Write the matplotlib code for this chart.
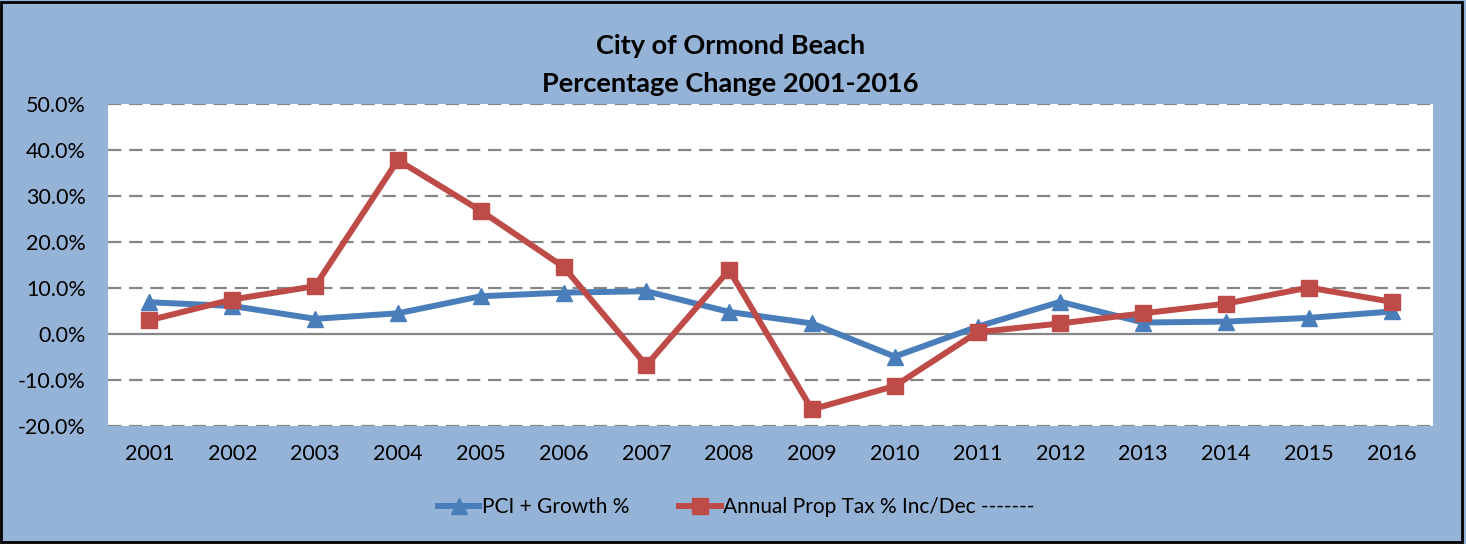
import matplotlib
matplotlib.use("Agg")
import matplotlib.pyplot as plt
from matplotlib.patches import Rectangle
from matplotlib.ticker import FuncFormatter

years = [str(y) for y in range(2001, 2017)]
pci_growth = [6.9, 6.1, 3.3, 4.5, 8.2, 9.0, 9.3, 4.8, 2.3, -4.9, 1.6, 7.0, 2.5, 2.7, 3.5, 4.9]
prop_tax = [3.0, 7.5, 10.4, 37.8, 26.8, 14.6, -6.8, 13.9, -16.4, -11.3, 0.4, 2.3, 4.5, 6.6, 10.1, 7.0]

plt.rcParams["font.family"] = ["Lato", "DejaVu Sans"]

bg = "#95B3D7"
blue = "#4A7EBB"
red = "#BE4B48"
grid = "#868686"

fig = plt.figure(figsize=(14.66, 5.44), dpi=100, facecolor=bg)
fig.patches.append(Rectangle((0.001, 0.003), 0.996, 0.994, transform=fig.transFigure,
                             fill=False, edgecolor="black", linewidth=2))

ax = fig.add_axes([0.0737, 0.2169, 0.9038, 0.5919])
ax.set_facecolor("white")
x = list(range(len(years)))

# gridlines: dashed except the zero line
for v in range(-20, 51, 10):
    if v == 0:
        ax.axhline(v, color=grid, linewidth=1.6, zorder=1)
    else:
        ax.axhline(v, color=grid, linewidth=1.6, linestyle=(0, (6, 3.5)), zorder=1)

ax.plot(x, pci_growth, color=blue, linewidth=4.3, marker="^", markersize=11,
        label="PCI + Growth %", zorder=3)
ax.plot(x, prop_tax, color=red, linewidth=4.3, marker="s", markersize=11,
        label="Annual Prop Tax % Inc/Dec -------", zorder=4)

ax.set_xlim(-0.5, len(years) - 0.5)
ax.set_ylim(-20, 50)
ax.set_yticks(range(-20, 51, 10))
ax.yaxis.set_major_formatter(FuncFormatter(lambda v, p: f"{v:.1f}%"))
ax.set_xticks(x)
ax.set_xticklabels(years)
ax.tick_params(axis="both", length=0, labelsize=15.5)
ax.tick_params(axis="x", pad=13)
ax.tick_params(axis="y", pad=16)
for s in ax.spines.values():
    s.set_visible(False)

fig.text(0.498, 0.915, "City of Ormond Beach", ha="center", va="center",
         fontsize=19.5, fontweight="bold")
fig.text(0.498, 0.846, "Percentage Change 2001-2016", ha="center", va="center",
         fontsize=19.5, fontweight="bold")

fig.legend(loc="center", bbox_to_anchor=(0.502, 0.068), ncol=2, frameon=False,
           fontsize=15, handlelength=2.0, columnspacing=2.4, handletextpad=0.1)

fig.savefig("out.png", dpi=100, facecolor=bg)
